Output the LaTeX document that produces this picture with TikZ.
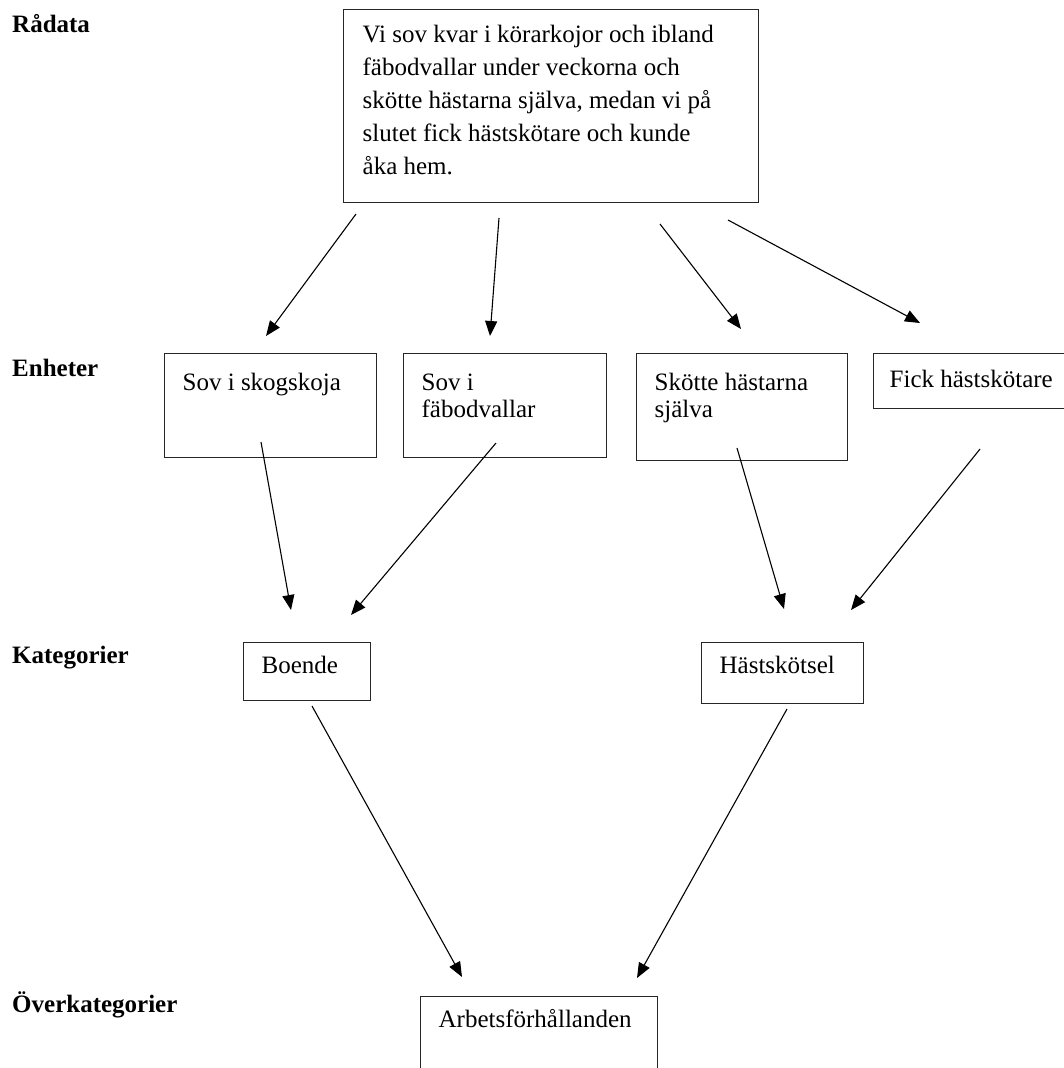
\documentclass[tikz,border=0pt]{standalone}
\usepackage{fontspec}
\setmainfont{Liberation Serif}
\usetikzlibrary{arrows.meta}

% text at the top left of a box: width, height, line distance, first baseline, text
\newcommand{\rutatext}[5]{\parbox[t][#2][t]{#1}{\raggedright\baselineskip=#3\rule{0pt}{#4}#5}}

\tikzset{
  ruta/.style={draw=black!85,line width=1.3pt,anchor=north west,inner xsep=#1,inner ysep=0pt,
    font=\fontsize{25}{27}\selectfont},
  ruta/.default=18pt,
  niva/.style={anchor=base west,inner sep=0pt,font=\fontsize{25}{27}\selectfont\bfseries},
  pil/.style={line width=1.1pt,-{Triangle[length=15pt,width=12pt]}}
}

\begin{document}
\begin{tikzpicture}[x=1pt,y=-1pt]
\path[use as bounding box,clip] (0,0) rectangle (1064,1068);

% niva labels
\node[niva] (radata) at (12,32) {Rådata};
\node[niva] (enheter) at (12,376) {Enheter};
\node[niva] (kategorier) at (12,663) {Kategorier};
\node[niva] (overkat) at (12,1012) {Överkategorier};

% boxes
\node[ruta=19pt] (citat) at (343,9) {\rutatext{377pt}{193pt}{33pt}{33pt}{Vi sov kvar i körarkojor och ibland\\
  fäbodvallar under veckorna och\\ skötte hästarna själva, medan vi på\\ slutet fick hästskötare och kunde\\ åka hem.}};

\node[ruta] (skogskoja) at (164,353) {\rutatext{176pt}{104pt}{27pt}{37pt}{Sov i skogskoja}};
\node[ruta] (fabod) at (403,353) {\rutatext{167pt}{104pt}{27pt}{37pt}{Sov i\\ fäbodvallar}};
\node[ruta] (skotte) at (636,353) {\rutatext{175pt}{107pt}{27pt}{37pt}{Skötte hästarna\\ själva}};
\node[ruta=16pt] (fick) at (873,353) {\rutatext{190pt}{55pt}{27pt}{34pt}{Fick hästskötare}};

\node[ruta] (boende) at (243,642) {\rutatext{91pt}{58pt}{27pt}{31pt}{Boende}};
\node[ruta] (hastskotsel) at (701,642) {\rutatext{126pt}{61pt}{27pt}{31pt}{Hästskötsel}};

\node[ruta] (arbete) at (420,996) {\rutatext{201pt}{100pt}{27pt}{31pt}{Arbetsförhållanden}};

% arrow ends
\coordinate (a1) at (356,214); \coordinate (b1) at (266,336);
\coordinate (a2) at (499,218); \coordinate (b2) at (490,336);
\coordinate (a3) at (660,224); \coordinate (b3) at (741,329);
\coordinate (a4) at (728,220); \coordinate (b4) at (920,323);
\coordinate (a5) at (261,442); \coordinate (b5) at (291,610);
\coordinate (a6) at (496,443); \coordinate (b6) at (351,615);
\coordinate (a7) at (737,448); \coordinate (b7) at (784,609);
\coordinate (a8) at (980,449); \coordinate (b8) at (851,610);
\coordinate (a9) at (312,706); \coordinate (b9) at (462,977);
\coordinate (a10) at (787,709); \coordinate (b10) at (637,978);

\draw[pil] (a1) -- (b1);
\draw[pil] (a2) -- (b2);
\draw[pil] (a3) -- (b3);
\draw[pil] (a4) -- (b4);
\draw[pil] (a5) -- (b5);
\draw[pil] (a6) -- (b6);
\draw[pil] (a7) -- (b7);
\draw[pil] (a8) -- (b8);
\draw[pil] (a9) -- (b9);
\draw[pil] (a10) -- (b10);

\end{tikzpicture}
\end{document}
